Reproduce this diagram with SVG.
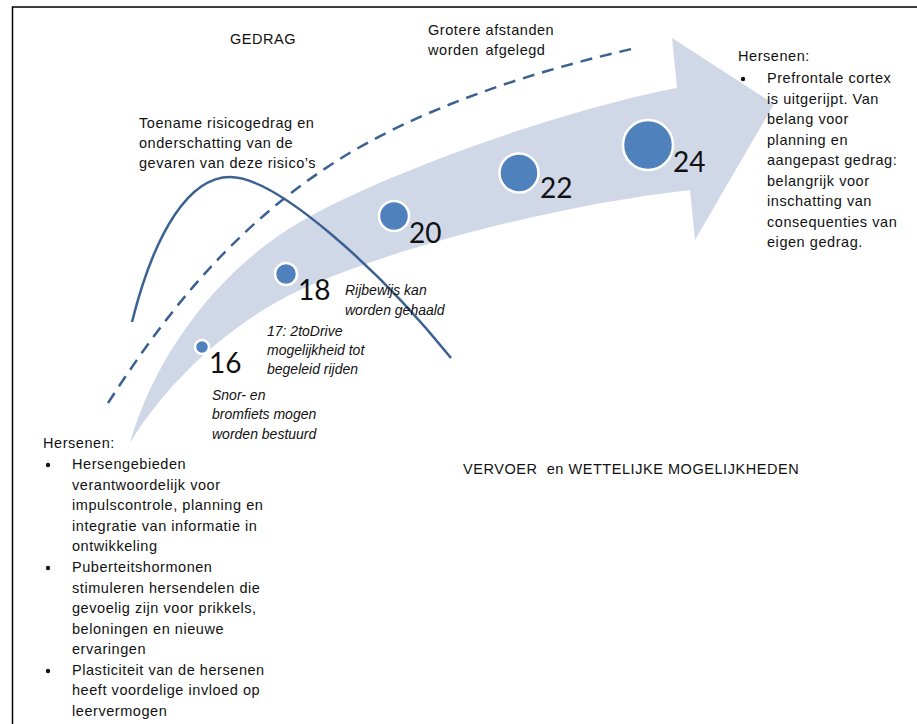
<svg xmlns="http://www.w3.org/2000/svg" width="917" height="724" viewBox="0 0 917 724">
  <style>
    text { font-family: "Liberation Sans", Arial, sans-serif; font-size: 14.5px; letter-spacing: 0.55px; fill: #111; }
    .it { font-size: 14px; font-style: italic; letter-spacing: 0; }
    .age { font-family: Lato, "Open Sans", sans-serif; font-size: 28px; letter-spacing: 0; fill: #111; }
    .dot { fill: #4f81bd; stroke: #fff; stroke-width: 2.5; }
    .curve { fill: none; stroke: #3b6193; stroke-width: 2.5; }
  </style>

  <rect width="917" height="724" fill="#fff"/>
  <!-- frame -->
  <path d="M12.5,724 V7 H917" fill="none" stroke="#000" stroke-width="1.5"/>

  <!-- big curved arrow -->
  <g id="arrow">
    <path d="M130,443 C155,355 218,270 300,222 C380,175 560,110 677,88 L672,38 L774,104 L695,240 L690,190 C560,205 400,245 300,290 C232,322 168,380 130,443 Z" fill="#d0d8e8"/>
  </g>

  <g id="connectors">
    <path class="curve" stroke-dasharray="12 8" d="M108,403 C165,315 230,230 335,162 C420,108 530,72 636,48"/>
    <path class="curve" d="M132,322 C155,230 190,177 230,177 C277,177 380,270 451,358"/>
  </g>

  <g id="age16"><circle class="dot" cx="202" cy="347" r="7"/><text class="age" x="209" y="373">16</text></g>
  <g id="age18"><circle class="dot" cx="286" cy="274" r="11"/><text class="age" x="298" y="300">18</text></g>
  <g id="age20"><circle class="dot" cx="394" cy="216" r="15"/><text class="age" x="409" y="243">20</text></g>
  <g id="age22"><circle class="dot" cx="519" cy="173" r="19.5"/><text class="age" x="540" y="198">22</text></g>
  <g id="age24"><circle class="dot" cx="648" cy="145" r="25"/><text class="age" x="673" y="172">24</text></g>

  <g id="titles">
    <text x="230" y="44">GEDRAG</text>
    <text x="463" y="474" xml:space="preserve">VERVOER  en WETTELIJKE MOGELIJKHEDEN</text>
  </g>

  <g id="distance">
    <text x="428" y="35">Grotere afstanden</text>
    <text x="428" y="55" word-spacing="2">worden afgelegd</text>
  </g>

  <g id="risk">
    <text x="139" y="128">Toename risicogedrag en</text>
    <text x="139" y="148">onderschatting van de</text>
    <text x="139" y="168">gevaren van deze risico’s</text>
  </g>

  <g id="labels">
    <text class="it" x="345" y="295">Rijbewijs kan</text>
    <text class="it" x="345" y="315">worden gehaald</text>
    <text class="it" x="267" y="336">17: 2toDrive</text>
    <text class="it" x="267" y="355">mogelijkheid tot</text>
    <text class="it" x="267" y="374">begeleid rijden</text>
    <text class="it" x="212" y="400">Snor- en</text>
    <text class="it" x="212" y="419">bromfiets mogen</text>
    <text class="it" x="212" y="439">worden bestuurd</text>
  </g>

  <g id="brain-adult">
    <text x="738" y="61">Hersenen:</text>
    <circle cx="743" cy="79" r="2.2" fill="#111"/>
    <text x="767" y="83">Prefrontale cortex</text>
    <text x="767" y="103.5">is uitgerijpt. Van</text>
    <text x="767" y="124">belang voor</text>
    <text x="767" y="144.5">planning en</text>
    <text x="767" y="165">aangepast gedrag:</text>
    <text x="767" y="185.5">belangrijk voor</text>
    <text x="767" y="206">inschatting van</text>
    <text x="767" y="226.5">consequenties van</text>
    <text x="767" y="247">eigen gedrag.</text>
  </g>

  <g id="brain-teen">
    <text x="43" y="448">Hersenen:</text>
    <circle cx="48" cy="465" r="2.2" fill="#111"/>
    <text x="72" y="469">Hersengebieden</text>
    <text x="72" y="490">verantwoordelijk voor</text>
    <text x="72" y="510">impulscontrole, planning en</text>
    <text x="72" y="531">integratie van informatie in</text>
    <text x="72" y="551">ontwikkeling</text>
    <circle cx="48" cy="568" r="2.2" fill="#111"/>
    <text x="72" y="572">Puberteitshormonen</text>
    <text x="72" y="593">stimuleren hersendelen die</text>
    <text x="72" y="613">gevoelig zijn voor prikkels,</text>
    <text x="72" y="634">beloningen en nieuwe</text>
    <text x="72" y="654">ervaringen</text>
    <circle cx="48" cy="671" r="2.2" fill="#111"/>
    <text x="72" y="675">Plasticiteit van de hersenen</text>
    <text x="72" y="695">heeft voordelige invloed op</text>
    <text x="72" y="716">leervermogen</text>
  </g>
</svg>
